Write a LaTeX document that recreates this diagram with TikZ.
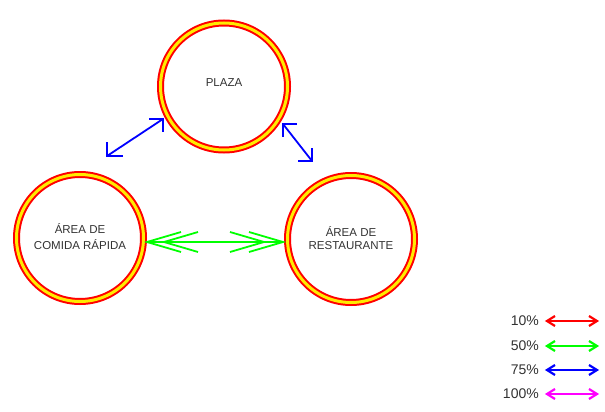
\documentclass[tikz,border=0pt]{standalone}
\usepackage{fontspec}
\setmainfont{Liberation Sans}
\usetikzlibrary{calc}
\definecolor{txt}{RGB}{50,50,50}
\definecolor{ringred}{RGB}{255,0,0}
\definecolor{ringyel}{RGB}{255,235,0}
\definecolor{grn}{RGB}{0,255,0}
\definecolor{blu}{RGB}{0,0,255}
\definecolor{mag}{RGB}{255,0,255}
\tikzset{
  zone/.style={inner sep=0pt, align=center, text=txt},
  ring/.style={draw=ringred, line width=7pt},
  ringin/.style={draw=ringyel, line width=3pt},
  bluline/.style={draw=blu, line width=1.8pt, line join=miter},
  grnline/.style={draw=grn, line width=1.8pt, line join=miter},
  legline/.style={line width=2.2pt, line join=miter},
  legtext/.style={anchor=east, text=txt, font=\fontsize{14}{16}\selectfont, inner sep=0pt}
}
\begin{document}
\begin{tikzpicture}[x=1pt,y=-1pt]
\useasboundingbox (0,0) rectangle (605,412);
% circles
\coordinate (cp) at (224,86.5);
\coordinate (cc) at (80,238);
\coordinate (cr) at (351,239);
\foreach \n in {cp,cc,cr}{
  \draw[ring] (\n) circle (63.5pt);
  \draw[ringin] (\n) circle (63.5pt);
}
\node[zone, font=\fontsize{11.5}{13}\selectfont] (plaza) at (224,83) {PLAZA};
\node[zone, font=\fontsize{11.5}{16}\selectfont] (comida) at (80,237) {ÁREA DE\\COMIDA RÁPIDA};
\node[zone, font=\fontsize{11.5}{13}\selectfont] (rest) at (351,238) {ÁREA DE\\RESTAURANTE};
% connector end points
\coordinate (bl) at (107,156);
\coordinate (pl) at (163,119);
\coordinate (pr) at (283,124);
\coordinate (br) at (312,161);
\coordinate (ce) at (147,242);
\coordinate (rw) at (283,242);
% blue connectors
\draw[bluline] (bl) -- (pl);
\draw[bluline] ($(bl)+(16,0)$) -- (bl) -- ($(bl)+(0,-14)$);
\draw[bluline] ($(pl)+(-14,0)$) -- (pl) -- ($(pl)+(0,13)$);
\draw[bluline] (pr) -- (br);
\draw[bluline] ($(pr)+(14,0)$) -- (pr) -- ($(pr)+(0,13)$);
\draw[bluline] ($(br)+(-14,0)$) -- (br) -- ($(br)+(0,-13)$);
% green connector
\draw[grnline] (ce) -- (rw);
\draw[grnline] ($(ce)+(34,-10)$) -- (ce) -- ($(ce)+(34,10)$);
\draw[grnline] ($(ce)+(51,-10)$) -- ($(ce)+(17,0)$) -- ($(ce)+(51,10)$);
\draw[grnline] ($(rw)+(-34,-10)$) -- (rw) -- ($(rw)+(-34,10)$);
\draw[grnline] ($(rw)+(-53,-10)$) -- ($(rw)+(-19,0)$) -- ($(rw)+(-53,10)$);
% legend
\node[legtext] (l1) at (539,321) {10\%};
\node[legtext] (l2) at (539,346) {50\%};
\node[legtext] (l3) at (539,370) {75\%};
\node[legtext] (l4) at (539,394) {100\%};
\foreach \i/\c in {1/ringred,2/grn,3/blu,4/mag}{
  \coordinate (a\i) at ($(l\i.east)+(8,0)$);
  \coordinate (b\i) at ($(l\i.east)+(58,0)$);
  \draw[legline, draw=\c] (a\i) -- (b\i);
  \draw[legline, draw=\c] ($(a\i)+(8,-5)$) -- (a\i) -- ($(a\i)+(8,5)$);
  \draw[legline, draw=\c] ($(b\i)+(-8,-5)$) -- (b\i) -- ($(b\i)+(-8,5)$);
}
\end{tikzpicture}
\end{document}
